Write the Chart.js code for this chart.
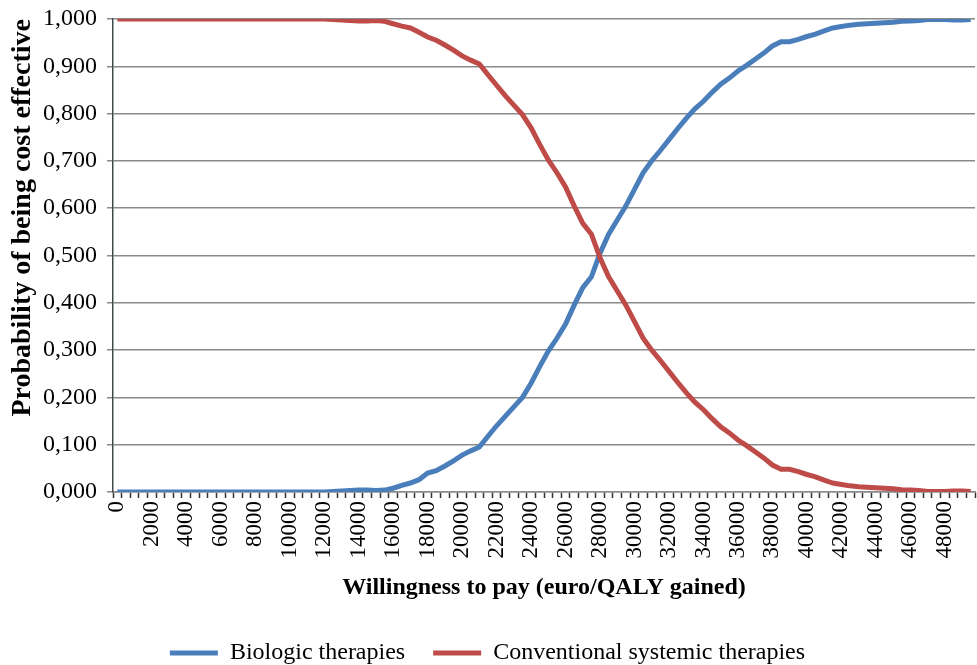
<!DOCTYPE html>
<html>
<head>
<meta charset="utf-8">
<script src="https://cdn.jsdelivr.net/npm/chart.js@4"></script>
<style>
  html, body { margin: 0; padding: 0; background: #fff; }
  #wrap { width: 977px; height: 665px; }
</style>
</head>
<body>
<div id="wrap"><canvas id="grafico" width="977" height="665"></canvas></div>
<script>
// Willingness to pay (euro/QALY), step 500
const wtp = [
  0, 500, 1000, 1500, 2000, 2500, 3000, 3500, 4000, 4500,
  5000, 5500, 6000, 6500, 7000, 7500, 8000, 8500, 9000, 9500,
  10000, 10500, 11000, 11500, 12000, 12500, 13000, 13500, 14000, 14500,
  15000, 15500, 16000, 16500, 17000, 17500, 18000, 18500, 19000, 19500,
  20000, 20500, 21000, 21500, 22000, 22500, 23000, 23500, 24000, 24500,
  25000, 25500, 26000, 26500, 27000, 27500, 28000, 28500, 29000, 29500,
  30000, 30500, 31000, 31500, 32000, 32500, 33000, 33500, 34000, 34500,
  35000, 35500, 36000, 36500, 37000, 37500, 38000, 38500, 39000, 39500,
  40000, 40500, 41000, 41500, 42000, 42500, 43000, 43500, 44000, 44500,
  45000, 45500, 46000, 46500, 47000, 47500, 48000, 48500, 49000, 49500
];

// labels shown on the x axis
const tickLabels = ['0', '2000', '4000', '6000', '8000', '10000', '12000', '14000',
  '16000', '18000', '20000', '22000', '24000', '26000', '28000', '30000', '32000',
  '34000', '36000', '38000', '40000', '42000', '44000', '46000', '48000'];

const biologic = [
  0, 0, 0, 0, 0, 0, 0, 0, 0, 0,
  0, 0, 0, 0, 0, 0, 0, 0, 0, 0,
  0, 0, 0, 0, 0, 0.001, 0.002, 0.003, 0.004, 0.004,
  0.003, 0.004, 0.008, 0.014, 0.019, 0.026, 0.040, 0.045, 0.055, 0.066,
  0.078, 0.087, 0.095, 0.118, 0.140, 0.160, 0.180, 0.200, 0.230, 0.265,
  0.298, 0.325, 0.355, 0.395, 0.432, 0.455, 0.505, 0.545, 0.575, 0.605,
  0.640, 0.675, 0.700, 0.722, 0.745, 0.768, 0.790, 0.810, 0.826, 0.845,
  0.862, 0.875, 0.890, 0.902, 0.915, 0.928, 0.943, 0.952, 0.952, 0.957,
  0.963, 0.968, 0.975, 0.981, 0.984, 0.987, 0.989, 0.990, 0.991, 0.992,
  0.993, 0.995, 0.996, 0.997, 0.999, 0.999, 0.999, 0.998, 0.998, 0.999
];

const conventional = [
  1, 1, 1, 1, 1, 1, 1, 1, 1, 1,
  1, 1, 1, 1, 1, 1, 1, 1, 1, 1,
  1, 1, 1, 1, 1, 0.999, 0.998, 0.997, 0.996, 0.996,
  0.997, 0.995, 0.990, 0.985, 0.981, 0.972, 0.962, 0.955, 0.945, 0.934,
  0.922, 0.913, 0.905, 0.882, 0.860, 0.838, 0.818, 0.798, 0.770, 0.735,
  0.702, 0.675, 0.645, 0.605, 0.568, 0.545, 0.495, 0.455, 0.425, 0.395,
  0.360, 0.325, 0.300, 0.278, 0.255, 0.232, 0.210, 0.190, 0.174, 0.155,
  0.138, 0.125, 0.110, 0.098, 0.085, 0.072, 0.057, 0.048, 0.048, 0.043,
  0.037, 0.032, 0.025, 0.019, 0.016, 0.013, 0.011, 0.010, 0.009, 0.008,
  0.007, 0.005, 0.004, 0.003, 0.001, 0.001, 0.001, 0.002, 0.002, 0.001
];

const fuente = '"Liberation Serif", "Times New Roman", serif';
const azul = '#4a7ebb';
const rojo = '#be4b48';

// altura fija para la leyenda (el padding de Chart.js la hace muy alta)
const ajusteLeyenda = {
  id: 'ajusteLeyenda',
  beforeInit(chart) {
    const fitOriginal = chart.legend.fit;
    chart.legend.fit = function () {
      fitOriginal.bind(chart.legend)();
      this.height = 52;
    };
  }
};

const config = {
  type: 'line',
  data: {
    labels: wtp,
    datasets: [{
      label: 'Biologic therapies',
      data: biologic,
      borderColor: azul,
      backgroundColor: azul,
      borderWidth: 5,
      pointRadius: 0,
      tension: 0,
      order: 1
    }, {
      label: 'Conventional systemic therapies',
      data: conventional,
      borderColor: rojo,
      backgroundColor: rojo,
      borderWidth: 5,
      pointRadius: 0,
      tension: 0,
      order: 0
    }]
  },
  options: {
    responsive: false,
    animation: false,
    layout: { padding: { top: 19, right: 2, bottom: 0, left: 0 } },
    plugins: {
      tooltip: { enabled: false },
      legend: {
        position: 'bottom',
        labels: {
          font: { family: fuente, size: 24 },
          color: '#000',
          boxWidth: 48,
          boxHeight: 5,
          padding: 28,
          sort: (a, b) => a.datasetIndex - b.datasetIndex,
          generateLabels(chart) {
            const items = Chart.defaults.plugins.legend.labels.generateLabels(chart);
            items.forEach(it => { it.lineWidth = 0; });
            return items;
          }
        }
      }
    },
    scales: {
      x: {
        type: 'category',
        offset: true,
        afterFit(scale) {
          scale.height = 121;
          scale.paddingLeft = 0;
          scale.paddingRight = 0;
        },
        grid: {
          offset: true,
          drawOnChartArea: false,
          drawTicks: true,
          tickLength: 6,
          tickColor: '#333',
          tickWidth: 1.5
        },
        border: { display: true, color: '#8a8a8a', width: 1.5 },
        ticks: {
          autoSkip: false,
          maxRotation: 90,
          minRotation: 90,
          padding: 3,
          color: '#000',
          font: { family: fuente, size: 23 },
          callback: (v, i) => (i % 4 === 0 ? tickLabels[i / 4] : '')
        },
        title: {
          display: true,
          text: 'Willingness to pay (euro/QALY gained)',
          color: '#000',
          font: { family: fuente, size: 24, weight: 'bold' },
          padding: { top: 4, bottom: 11 }
        }
      },
      y: {
        min: 0,
        max: 1,
        afterFit(scale) {
          scale.width = 113;
          scale.paddingTop = 0;
          scale.paddingBottom = 0;
        },
        grid: {
          color: '#8a8a8a',
          lineWidth: 1.5,
          drawTicks: true,
          tickLength: 6
        },
        border: { display: true, color: '#404a4a', width: 1.5 },
        ticks: {
          stepSize: 0.1,
          padding: 10,
          color: '#000',
          font: { family: fuente, size: 24 },
          callback: v => v.toFixed(3).replace('.', ',')
        },
        title: {
          display: true,
          text: 'Probability of being cost effective',
          align: 'end',
          color: '#000',
          font: { family: fuente, size: 28, weight: 'bold' },
          padding: { top: 6, bottom: 4 }
        }
      }
    }
  },
  plugins: [ajusteLeyenda]
};

const ctx = document.getElementById('grafico').getContext('2d');
const miGrafico = new Chart(ctx, config);
</script>
</body>
</html>
